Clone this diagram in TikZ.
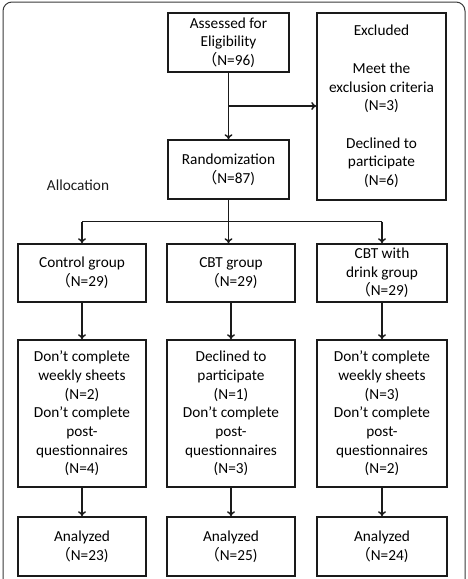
\documentclass[tikz,border=0pt]{standalone}
\usepackage{fontspec}
\setmainfont{Carlito}
\newfontfamily\cjk{Noto Sans CJK SC}
\usetikzlibrary{arrows.meta,positioning,calc}
\definecolor{ink}{HTML}{1A1A1A}
\definecolor{frame}{HTML}{3A3A3A}
\newcommand{\fwlp}{{\cjk （}}

\begin{document}
\begin{tikzpicture}[
    x=1pt,y=-1pt,
    font=\fontsize{15.3}{18.7}\selectfont,
    box/.style={draw=ink,line width=1.5pt,align=center,inner sep=0pt,
        minimum width=128pt,minimum height=58pt},
    arr/.style={draw=ink,line width=1.5pt,-{To[length=5pt,width=8pt]}},
  ]
  \useasboundingbox (0,0) rectangle (467,579);

  % outer frame (runs off the bottom edge)
  \draw[frame,line width=1pt,rounded corners=9pt] (3,2) rectangle (465,600);

  % ============================================================= ENROLMENT
  \node[box,minimum width=121pt,minimum height=59pt] (assess) at (228.5,42.5)
    {Assessed for\\Eligibility\\\fwlp N=96)};
  \node[box,minimum width=129pt,minimum height=187pt] (excl) at (381.5,106.5)
    {Excluded\\\strut\\Meet the\\exclusion criteria\\(N=3)\\\strut\\Declined to\\participate\\(N=6)};
  \node[box,minimum width=121pt,minimum height=59pt] (rand) at (228.5,169.5)
    {Randomization\\\fwlp N=87)};
  \node[ink] (alloc) at (78,185) {Allocation};

  \draw[arr] (assess.south) -- (rand.north);
  \coordinate (brk) at ($(assess.south)!0.5!(rand.north)$);
  \draw[arr] (brk) -- (brk -| excl.west);

  % ============================================================= GROUPS
  % #1 column  #2 x-centre  #3 width  #4 group  #5 drop-outs  #6 analysed
  \foreach \c/\cx/\w/\grp/\drop/\ana in {
      1/82/128/{Control group\\\fwlp N=29)}/{Don’t complete\\weekly sheets\\(N=2)\\Don’t complete\\post-\\questionnaires\\(N=4)}/{Analyzed\\\fwlp N=23)},
      2/231/128/{CBT group\\\fwlp N=29)}/{Declined to\\participate\\(N=1)\\Don’t complete\\post-\\questionnaires\\(N=3)}/{Analyzed\\\fwlp N=25)},
      3/382/130/{CBT with\\drink group\\\fwlp N=29)}/{Don’t complete\\weekly sheets\\(N=3)\\Don’t complete\\post-\\questionnaires\\(N=2)}/{Analyzed\\\fwlp N=24)}}{
    \node[box,minimum width=\w pt] (grp\c) at (\cx,273) {\grp};
    \node[box,minimum width=\w pt,minimum height=147pt] (drop\c) at (\cx,413.5) {\drop};
    \node[box,minimum width=\w pt,minimum height=59pt] (ana\c) at (\cx,546.5) {\ana};
    \draw[arr] (grp\c.south) -- (drop\c.north);
    \draw[arr] (drop\c.south) -- (ana\c.north);
  }

  % fork from randomization to the three arms
  \coordinate (fork) at ($(rand.south)!0.5!(rand.south |- grp2.north)$);
  \draw[ink,line width=1.5pt] (fork -| grp1.north) -- (fork -| grp3.north);
  \draw[arr] (rand.south) -- (rand.south |- grp2.north);
  \draw[arr] (fork -| grp1.north) -- (grp1.north);
  \draw[arr] (fork -| grp3.north) -- (grp3.north);

\end{tikzpicture}
\end{document}
